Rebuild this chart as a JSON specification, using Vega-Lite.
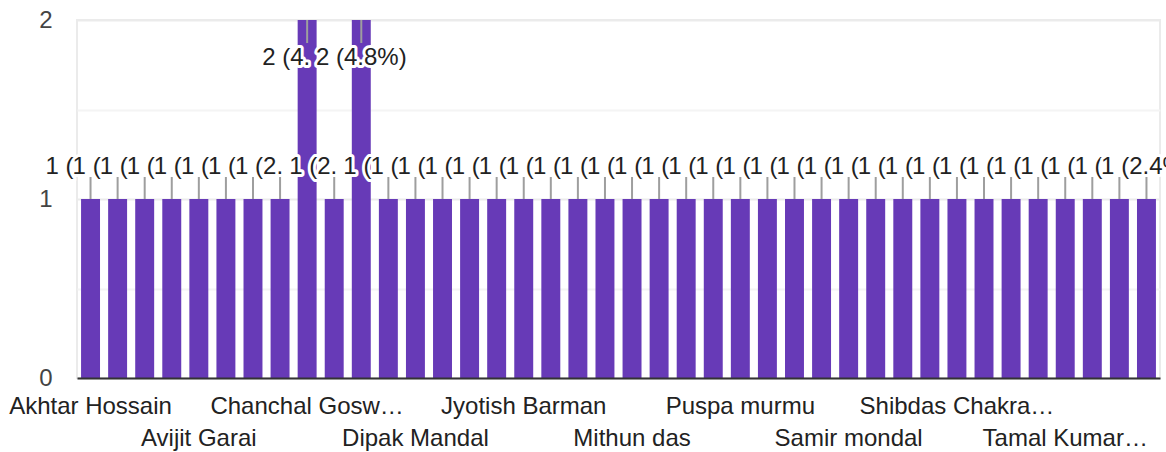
{
  "$schema": "https://vega.github.io/schema/vega-lite/v6.json",
  "width": 1083,
  "height": 358,
  "autosize": {"type": "none"},
  "padding": {"left": 77, "top": 20, "right": 6, "bottom": 74},
  "config": {
    "view": {"stroke": "#ebebeb", "strokeWidth": 2},
    "font": "Liberation Sans"
  },
  "data": {
    "values": [
      {"name": "Akhtar Hossain", "count": 1, "label": "1 (2.4%)"},
      {"name": "Amit Das", "count": 1, "label": "1 (2.4%)"},
      {"name": "Anima Roy", "count": 1, "label": "1 (2.4%)"},
      {"name": "Arup Sarkar", "count": 1, "label": "1 (2.4%)"},
      {"name": "Avijit Garai", "count": 1, "label": "1 (2.4%)"},
      {"name": "Bapi Mondal", "count": 1, "label": "1 (2.4%)"},
      {"name": "Bikash Saha", "count": 1, "label": "1 (2.4%)"},
      {"name": "Biswajit Pal", "count": 1, "label": "1 (2.4%)"},
      {"name": "Chanchal Gosw…", "count": 2, "label": "2 (4.8%)"},
      {"name": "Debasish Ghosh", "count": 1, "label": "1 (2.4%)"},
      {"name": "Dilip Saha", "count": 2, "label": "2 (4.8%)"},
      {"name": "Dinesh Sarkar", "count": 1, "label": "1 (2.4%)"},
      {"name": "Dipak Mandal", "count": 1, "label": "1 (2.4%)"},
      {"name": "Gopal Das", "count": 1, "label": "1 (2.4%)"},
      {"name": "Goutam Paul", "count": 1, "label": "1 (2.4%)"},
      {"name": "Jayanta Bera", "count": 1, "label": "1 (2.4%)"},
      {"name": "Jyotish Barman", "count": 1, "label": "1 (2.4%)"},
      {"name": "Kalyan Dutta", "count": 1, "label": "1 (2.4%)"},
      {"name": "Manas Pal", "count": 1, "label": "1 (2.4%)"},
      {"name": "Mintu Roy", "count": 1, "label": "1 (2.4%)"},
      {"name": "Mithun das", "count": 1, "label": "1 (2.4%)"},
      {"name": "Nirmal Hembram", "count": 1, "label": "1 (2.4%)"},
      {"name": "Pradip Sarkar", "count": 1, "label": "1 (2.4%)"},
      {"name": "Prasanta Maji", "count": 1, "label": "1 (2.4%)"},
      {"name": "Puspa murmu", "count": 1, "label": "1 (2.4%)"},
      {"name": "Rajesh Kisku", "count": 1, "label": "1 (2.4%)"},
      {"name": "Ranjit Pal", "count": 1, "label": "1 (2.4%)"},
      {"name": "Sailen Tudu", "count": 1, "label": "1 (2.4%)"},
      {"name": "Samir mondal", "count": 1, "label": "1 (2.4%)"},
      {"name": "Sanjay Ghosh", "count": 1, "label": "1 (2.4%)"},
      {"name": "Sekhar Roy", "count": 1, "label": "1 (2.4%)"},
      {"name": "Shankar Saha", "count": 1, "label": "1 (2.4%)"},
      {"name": "Shibdas Chakra…", "count": 1, "label": "1 (2.4%)"},
      {"name": "Soumen Das", "count": 1, "label": "1 (2.4%)"},
      {"name": "Subrata Pal", "count": 1, "label": "1 (2.4%)"},
      {"name": "Sujit Mahato", "count": 1, "label": "1 (2.4%)"},
      {"name": "Tamal Kumar…", "count": 1, "label": "1 (2.4%)"},
      {"name": "Tapas Biswas", "count": 1, "label": "1 (2.4%)"},
      {"name": "Tarun Soren", "count": 1, "label": "1 (2.4%)"},
      {"name": "Uttam Kumar", "count": 1, "label": "1 (2.4%)"}
    ]
  },
  "encoding": {
    "x": {
      "field": "name",
      "type": "nominal",
      "sort": null,
      "scale": {"paddingInner": 0.3, "paddingOuter": 0.15},
      "axis": {
        "title": null,
        "zindex": 1,
        "domain": true,
        "domainColor": "#333333",
        "domainWidth": 2,
        "ticks": false,
        "tickSize": 0,
        "grid": false,
        "labelAngle": 0,
        "labelFont": "Liberation Sans",
        "labelFontSize": 24,
        "labelColor": "#222222",
        "labelOverlap": false,
        "labelLimit": 400,
        "labelExpr": "indexof(['Akhtar Hossain','Avijit Garai','Chanchal Gosw…','Dipak Mandal','Jyotish Barman','Mithun das','Puspa murmu','Samir mondal','Shibdas Chakra…','Tamal Kumar…'], datum.value) >= 0 ? datum.value : ''",
        "labelPadding": {
          "condition": {
            "test": "indexof(['Avijit Garai','Dipak Mandal','Mithun das','Samir mondal','Tamal Kumar…'], datum.value) >= 0",
            "value": 48
          },
          "value": 16
        }
      }
    },
    "y": {
      "field": "count",
      "type": "quantitative",
      "scale": {"domain": [0, 2], "nice": false},
      "axis": {
        "title": null,
        "values": [0, 0.5, 1, 1.5, 2],
        "labelExpr": "datum.value % 1 == 0 ? format(datum.value, 'd') : ''",
        "domain": false,
        "ticks": false,
        "tickSize": 0,
        "labelPadding": 25,
        "labelFont": "Liberation Sans",
        "labelFontSize": 24,
        "labelColor": "#444444",
        "gridWidth": 2,
        "gridColor": {
          "condition": {"test": "datum.value % 1 == 0", "value": "#ebebeb"},
          "value": "#f4f4f4"
        }
      }
    }
  },
  "layer": [
    {"mark": {"type": "bar", "color": "#673ab7"}},
    {
      "transform": [{"filter": "datum.count == 1"}],
      "mark": {"type": "rule", "color": "#9e9e9e", "strokeWidth": 2, "y2Offset": -22},
      "encoding": {"y2": {"field": "count"}}
    },
    {
      "transform": [{"filter": "datum.count == 2"}],
      "mark": {"type": "rule", "color": "#9e9e9e", "strokeWidth": 2, "y2Offset": 23},
      "encoding": {"y2": {"field": "count"}}
    },
    {
      "transform": [{"filter": "datum.count == 1 && indexof(['Biswajit Pal','Debasish Ghosh','Uttam Kumar'], datum.name) < 0"}],
      "mark": {"type": "text", "align": "left", "baseline": "alphabetic", "dx": -45, "dy": -25, "fontSize": 24, "limit": 36, "ellipsis": " ", "fill": "white", "stroke": "white", "strokeWidth": 6, "strokeJoin": "round"},
      "encoding": {"text": {"field": "label"}}
    },
    {
      "transform": [{"filter": "datum.count == 1 && indexof(['Biswajit Pal','Debasish Ghosh','Uttam Kumar'], datum.name) < 0"}],
      "mark": {"type": "text", "align": "left", "baseline": "alphabetic", "dx": -45, "dy": -25, "fontSize": 24, "limit": 36, "ellipsis": " ", "fill": "#222222"},
      "encoding": {"text": {"field": "label"}}
    },
    {
      "transform": [{"filter": {"field": "name", "oneOf": ["Biswajit Pal", "Debasish Ghosh"]}}],
      "mark": {"type": "text", "align": "left", "baseline": "alphabetic", "dx": -45, "dy": -25, "fontSize": 24, "limit": 56, "ellipsis": " ", "fill": "white", "stroke": "white", "strokeWidth": 6, "strokeJoin": "round"},
      "encoding": {"text": {"field": "label"}}
    },
    {
      "transform": [{"filter": {"field": "name", "oneOf": ["Biswajit Pal", "Debasish Ghosh"]}}],
      "mark": {"type": "text", "align": "left", "baseline": "alphabetic", "dx": -45, "dy": -25, "fontSize": 24, "limit": 56, "ellipsis": " ", "fill": "#222222"},
      "encoding": {"text": {"field": "label"}}
    },
    {
      "transform": [{"filter": {"field": "name", "equal": "Uttam Kumar"}}],
      "mark": {"type": "text", "align": "center", "baseline": "alphabetic", "dy": -25, "fontSize": 24, "fill": "white", "stroke": "white", "strokeWidth": 6, "strokeJoin": "round"},
      "encoding": {"text": {"field": "label"}}
    },
    {
      "transform": [{"filter": {"field": "name", "equal": "Uttam Kumar"}}],
      "mark": {"type": "text", "align": "center", "baseline": "alphabetic", "dy": -25, "fontSize": 24, "fill": "#222222"},
      "encoding": {"text": {"field": "label"}}
    },
    {
      "transform": [{"filter": {"field": "name", "equal": "Chanchal Gosw…"}}],
      "mark": {"type": "text", "align": "left", "baseline": "alphabetic", "dx": -45, "dy": 45, "fontSize": 24, "limit": 56, "ellipsis": " ", "fill": "white", "stroke": "white", "strokeWidth": 6, "strokeJoin": "round"},
      "encoding": {"text": {"field": "label"}}
    },
    {
      "transform": [{"filter": {"field": "name", "equal": "Chanchal Gosw…"}}],
      "mark": {"type": "text", "align": "left", "baseline": "alphabetic", "dx": -45, "dy": 45, "fontSize": 24, "limit": 56, "ellipsis": " ", "fill": "#222222"},
      "encoding": {"text": {"field": "label"}}
    },
    {
      "transform": [{"filter": {"field": "name", "equal": "Dilip Saha"}}],
      "mark": {"type": "text", "align": "center", "baseline": "alphabetic", "dy": 45, "fontSize": 24, "fill": "white", "stroke": "white", "strokeWidth": 6, "strokeJoin": "round"},
      "encoding": {"text": {"field": "label"}}
    },
    {
      "transform": [{"filter": {"field": "name", "equal": "Dilip Saha"}}],
      "mark": {"type": "text", "align": "center", "baseline": "alphabetic", "dy": 45, "fontSize": 24, "fill": "#222222"},
      "encoding": {"text": {"field": "label"}}
    }
  ]
}
